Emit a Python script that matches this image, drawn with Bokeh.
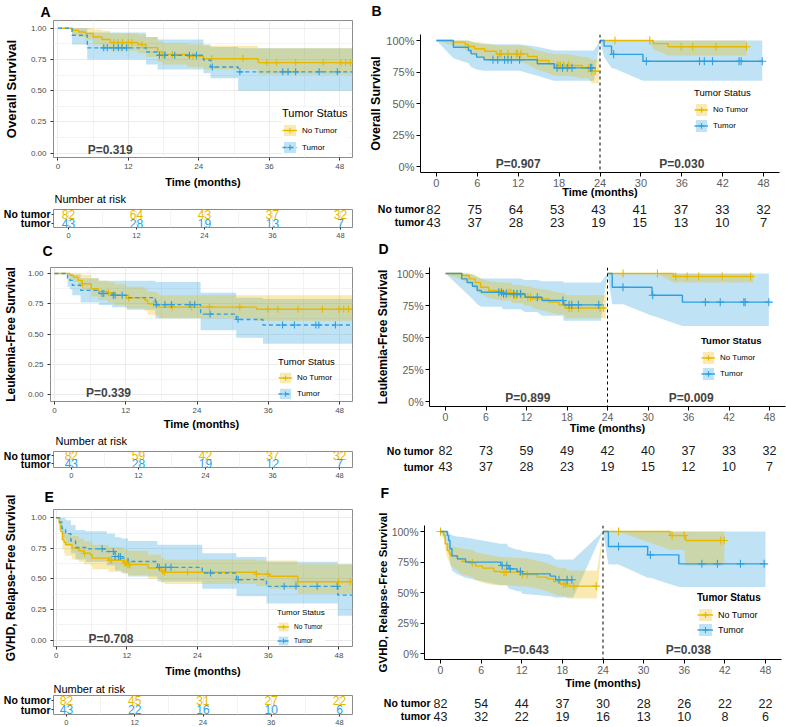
import numpy as np
from bokeh.plotting import figure
from bokeh.models import (Range1d, FactorRange, FixedTicker, NumeralTickFormatter,
                          Label, Legend, LegendItem, Span, Title)
from bokeh.layouts import column, row
from bokeh.embed import file_html
from bokeh.resources import INLINE
from bokeh.core.properties import value

FONT = "Liberation Sans"
GOLD = "#E7B800"
BLUE = "#2E9FDF"
BAND_ALPHA = 0.3
GROUPS = ["No Tumor", "Tumor"]
RISK_ROWS = ["No tumor", "tumor"]

# ---------------- A: overall survival, full follow-up ----------------
A_nt_t = [0, 2.4, 3.5, 4.7, 6.0, 7.5, 8.9, 13.6, 15.0, 17.0, 17.8, 22.0, 24.8, 34.1]
A_nt_s = [1.0, .984, .97, .958, .93, .91, .886, .87, .845, .81, .79, .776, .757, .725]
A_nt_lo = [1.0, .95, .93, .91, .87, .85, .82, .80, .77, .73, .71, .69, .67, .63]
A_nt_hi = [1.0, 1.0, 1.0, 1.0, .99, .98, .96, .95, .93, .90, .88, .87, .86, .84]
A_nt_cens = [9.5, 10.2, 11.0, 12.0, 12.6, 14.3, 17.9, 18.3, 19.5, 23.0, 23.6, 26.2, 31.5,
             35.6, 37.2, 40.5, 45.2, 48.2, 49.0, 49.8]
A_tu_t = [0, 2.4, 5.0, 15.0, 17.0, 24.8, 26.0, 30.7]
A_tu_s = [1.0, .944, .843, .81, .784, .745, .69, .651]
A_tu_lo = [1.0, .87, .75, .71, .67, .64, .60, .50]
A_tu_hi = [1.0, 1.0, .965, .93, .91, .87, .85, .84]
A_tu_cens = [7.8, 8.4, 9.5, 10.3, 10.9, 11.7, 17.3, 18.2, 19.9, 22.4, 23.6, 26.3, 31.0,
             38.3, 39.2, 40.5, 44.5, 47.6]

# ---------------- C: leukemia-free survival, full follow-up ----------------
C_nt_t = [0, 2.6, 3.2, 4.0, 4.6, 6.2, 7.4, 9.0, 10.1, 12.1, 15.2, 15.7, 17.1, 17.6, 34.0]
C_nt_s = [1.0, .985, .97, .943, .915, .874, .852, .84, .82, .798, .779, .75, .738, .722, .705]
C_nt_lo = [1.0, .95, .93, .89, .86, .81, .78, .76, .74, .71, .69, .66, .65, .63, .61]
C_nt_hi = [1.0, 1.0, 1.0, 1.0, .99, .96, .94, .93, .91, .89, .87, .85, .84, .82, .82]
C_nt_cens = [4.7, 9.1, 12.5, 16.7, 17.0, 19.8, 23.1, 26.1, 31.2, 35.9, 37.6, 41.0, 45.1,
             47.9, 48.7, 49.5]
C_tu_t = [0, 2.2, 2.6, 3.0, 4.4, 7.5, 9.7, 12.2, 17.0, 24.6, 30.6, 35.1]
C_tu_s = [1.0, .956, .943, .902, .86, .834, .82, .80, .743, .664, .62, .574]
C_tu_lo = [1.0, .89, .87, .82, .76, .74, .72, .70, .63, .53, .47, .42]
C_tu_hi = [1.0, 1.0, 1.0, .99, .96, .94, .94, .94, .93, .84, .80, .79]
C_tu_cens = [8.0, 8.3, 9.9, 10.2, 11.4, 17.2, 18.6, 19.7, 22.8, 23.6, 26.2, 30.9, 38.4,
             40.4, 44.0, 44.5, 47.3]

# ---------------- E: GVHD, relapse-free survival, full follow-up ----------------
E_nt_t = [0, 0.5, 0.8, 1.1, 1.35, 1.6, 2.7, 3.85, 4.7, 5.8, 6.1, 8.9, 11.4, 12.2, 15.6,
          17.8, 18.4, 34.0, 36.2, 41.0]
E_nt_s = [1.0, .955, .887, .82, .80, .78, .752, .73, .71, .698, .67, .653, .63, .617, .59,
          .563, .555, .54, .522, .478]
E_nt_lo = [1.0, .90, .82, .74, .71, .69, .66, .64, .62, .61, .58, .56, .54, .53, .50,
           .47, .46, .44, .42, .38]
E_nt_hi = [1.0, 1.0, .95, .90, .88, .87, .85, .83, .81, .80, .78, .76, .74, .73, .70,
           .67, .66, .65, .65, .62]
E_nt_cens = [4.8, 9.1, 9.4, 11.6, 11.9, 12.2, 12.5, 18.1, 18.4, 22.3, 26.2, 34.0, 35.9,
             41.0, 47.9, 49.9]
E_tu_t = [0, 0.6, 1.0, 1.6, 2.5, 3.3, 5.0, 8.6, 10.0, 11.0, 12.2, 17.2, 24.8, 30.6, 35.7, 47.8]
E_tu_s = [1.0, .965, .91, .87, .81, .757, .746, .724, .684, .67, .643, .595, .549, .495,
          .44, .368]
E_tu_lo = [1.0, .91, .83, .78, .71, .66, .64, .61, .57, .55, .52, .48, .42, .36, .30, .20]
E_tu_hi = [1.0, 1.0, 1.0, .98, .94, .90, .89, .87, .84, .83, .81, .78, .71, .68, .64, .62]
E_tu_cens = [7.8, 9.7, 10.0, 10.6, 10.9, 17.5, 18.6, 19.5, 26.2, 30.9, 38.7, 40.7, 44.3, 47.7]

# ---------------- B: overall survival, landmark at 24 months ----------------
B_nt1_t = [0, 2.5, 4.2, 4.7, 5.6, 7.1, 8.8, 13.4, 14.8, 16.5, 17.3, 21.4, 22.8]
B_nt1_s = [1.0, .987, .968, .952, .934, .915, .894, .873, .841, .815, .802, .78, .757]
B_nt1_lo = [1.0, .96, .93, .91, .88, .86, .83, .81, .77, .74, .72, .70, .66]
B_nt1_hi = [1.0, 1.0, 1.0, 1.0, .99, .98, .96, .95, .92, .90, .89, .87, .85]
B_nt1_cens = [9.3, 9.5, 10.5, 11.7, 11.9, 12.4, 17.7, 18.0, 18.2, 18.7, 19.4, 22.3, 22.8, 23.3]
B_nt1_end = 23.8
B_tu1_t = [0, 2.5, 4.7, 5.1, 5.9, 7.0, 14.8, 17.3]
B_tu1_s = [1.0, .947, .921, .894, .868, .847, .815, .783]
B_tu1_lo = [1.0, .86, .82, .79, .77, .76, .72, .68]
B_tu1_hi = [1.0, 1.0, 1.0, .99, .98, .97, .95, .92]
B_tu1_cens = [8.3, 9.0, 10.0, 10.5, 11.0, 12.2, 17.7, 18.5, 19.2, 19.9, 22.6, 22.8]
B_tu1_end = 23.1
B_nt2_t = [24, 31.8, 34.0]
B_nt2_s = [1.0, .975, .95]
B_nt2_lo = [1.0, .93, .88]
B_nt2_hi = [1.0, 1.0, 1.0]
B_nt2_cens = [26.2, 31.3, 35.9, 37.6, 41.0, 45.5]
B_nt2_end = 45.5
B_tu2_t = [24, 24.6, 25.7, 30.3]
B_tu2_s = [1.0, .955, .89, .835]
B_tu2_lo = [1.0, .87, .78, .68]
B_tu2_hi = [1.0, 1.0, 1.0, 1.0]
B_tu2_cens = [26.0, 30.8, 38.6, 39.3, 40.5, 44.4, 44.7, 47.8]
B_tu2_end = 47.8

# ---------------- D: leukemia-free survival, landmark at 24 months ----------------
D_nt1_t = [0, 2.5, 3.5, 4.4, 5.2, 6.4, 8.4, 9.9, 11.8, 12.8, 15.3, 16.8, 17.8]
D_nt1_s = [1.0, .984, .958, .93, .893, .867, .849, .833, .815, .802, .776, .755, .73]
D_nt1_lo = [1.0, .95, .92, .88, .84, .81, .79, .77, .75, .73, .70, .68, .65]
D_nt1_hi = [1.0, 1.0, 1.0, .99, .96, .94, .93, .91, .90, .89, .87, .85, .83]
D_nt1_cens = [9.1, 9.4, 9.7, 10.2, 10.5, 11.3, 12.2, 12.6, 17.7, 18.3, 18.7, 19.7, 22.9, 23.4]
D_nt1_end = 23.7
D_tu1_t = [0, 2.4, 3.2, 4.0, 4.7, 5.3, 8.5, 11.8, 14.3, 17.5]
D_tu1_s = [1.0, .958, .93, .90, .867, .854, .841, .815, .789, .755]
D_tu1_lo = [1.0, .88, .84, .80, .76, .74, .72, .70, .67, .63]
D_tu1_hi = [1.0, 1.0, 1.0, .99, .97, .96, .96, .95, .94, .93]
D_tu1_cens = [7.9, 8.3, 8.6, 9.0, 10.1, 10.6, 11.1, 13.6, 17.4, 18.3, 18.7, 19.7, 22.7]
D_tu1_end = 23.0
D_nt2_t = [24, 33.8]
D_nt2_s = [1.0, .977]
D_nt2_lo = [1.0, .93]
D_nt2_hi = [1.0, 1.0]
D_nt2_cens = [26.3, 31.4, 34.1, 35.8, 37.5, 41.0, 45.2]
D_nt2_end = 45.6
D_tu2_t = [24, 24.7, 30.6, 35.1]
D_tu2_s = [1.0, .893, .83, .776]
D_tu2_lo = [1.0, .76, .67, .59]
D_tu2_hi = [1.0, 1.0, 1.0, 1.0]
D_tu2_cens = [26.3, 30.7, 38.5, 40.7, 44.2, 44.4, 47.9]
D_tu2_end = 47.9

# ---------------- F: GVHD, relapse-free survival, landmark at 24 months ----------------
F_nt1_t = [0, 0.5, 0.7, 1.0, 1.3, 1.5, 2.5, 3.2, 4.4, 5.2, 6.2, 7.9, 8.9, 11.8, 14.3, 15.8,
           16.7, 17.7, 18.7]
F_nt1_s = [1.0, .967, .90, .844, .82, .80, .776, .754, .743, .716, .70, .672, .667, .648,
           .626, .612, .59, .57, .552]
F_nt1_lo = [1.0, .93, .85, .78, .75, .72, .68, .65, .63, .60, .58, .56, .56, .55, .53, .51,
            .49, .47, .45]
F_nt1_hi = [1.0, 1.0, .96, .92, .90, .88, .87, .86, .85, .83, .82, .80, .79, .78, .76, .74,
            .72, .70, .68]
F_nt1_cens = [0, 4.7, 9.4, 9.7, 12.1, 12.8, 18.2, 18.5, 19.7, 23.0]
F_nt1_end = 23.1
F_tu1_t = [0, 1.0, 1.2, 1.4, 1.7, 2.5, 3.7, 8.9, 10.1, 11.3, 12.1, 16.2, 17.0]
F_tu1_s = [1.0, .967, .926, .858, .80, .776, .749, .721, .694, .672, .653, .634, .605]
F_tu1_lo = [1.0, .91, .84, .75, .68, .65, .62, .56, .53, .51, .49, .47, .46]
F_tu1_hi = [1.0, 1.0, 1.0, .98, .97, .96, .95, .90, .87, .85, .84, .81, .77]
F_tu1_cens = [9.1, 9.8, 10.3, 11.8, 17.5, 18.7, 19.4]
F_tu1_end = 19.6
F_nt2_t = [24, 33.9, 36.2]
F_nt2_s = [1.0, .967, .926]
F_nt2_lo = [1.0, .85, .72]
F_nt2_hi = [1.0, 1.0, 1.0]
F_nt2_cens = [26.3, 34.2, 36.0, 41.4, 41.9]
F_nt2_end = 41.9
F_tu2_t = [24, 24.8, 30.6, 35.2]
F_tu2_s = [1.0, .877, .808, .735]
F_tu2_lo = [1.0, .73, .62, .545]
F_tu2_hi = [1.0, 1.0, 1.0, 1.0]
F_tu2_cens = [26.3, 31.0, 38.6, 40.9, 44.3, 47.8]
F_tu2_end = 48.0

# ---------------- numbers at risk ----------------
risk_t12 = [0, 12, 24, 36, 48]
risk_t6 = [0, 6, 12, 18, 24, 30, 36, 42, 48]
A_risk_nt = [82, 64, 43, 37, 32]
A_risk_tu = [43, 28, 19, 13, 7]
C_risk_nt = [82, 59, 42, 37, 32]
C_risk_tu = [43, 28, 19, 12, 7]
E_risk_nt = [82, 45, 31, 27, 22]
E_risk_tu = [43, 22, 16, 10, 6]
B_risk_nt = [82, 75, 64, 53, 43, 41, 37, 33, 32]
B_risk_tu = [43, 37, 28, 23, 19, 15, 13, 10, 7]
D_risk_nt = [82, 73, 59, 49, 42, 40, 37, 33, 32]
D_risk_tu = [43, 37, 28, 23, 19, 15, 12, 10, 7]
F_risk_nt = [82, 54, 44, 37, 30, 28, 26, 22, 22]
F_risk_tu = [43, 32, 22, 19, 16, 13, 10, 8, 6]

LEFT_W = 366
RIGHT_W = 420


def step_at(t, v, x):
    t = np.asarray(t, float)
    v = np.asarray(v, float)
    idx = np.searchsorted(t, np.asarray(x, float), side="right") - 1
    return v[np.clip(idx, 0, len(v) - 1)]


def x_range_px(f0, f1, p0, p48):
    k = (p48 - p0) / 48.0
    return Range1d(-(p0 - f0) / k, 48 + (f1 - p48) / k)


def y_range_px(ft, fb, p1, p0):
    k = (p0 - p1)
    return Range1d(-(fb - p0) / k, 1 + (p1 - ft) / k)


def add_top_text(p, text, size, bold, offset, gap):
    """Text above the frame, left-aligned, with its box bottom `gap` px above the frame."""
    if gap >= 3:
        # thin empty title used as a spacer between the frame and the text
        p.add_layout(Title(text=" ", text_font_size="1px", standoff=gap - 3), "above")
        standoff = 0
    else:
        standoff = 2 * gap
    p.add_layout(Title(text=text, align="left", offset=offset, standoff=standoff,
                       text_font=FONT, text_font_size=size,
                       text_font_style="bold" if bold else "normal",
                       text_color="black"), "above")


def add_legend(p, keys, loc, gw, gh, spacing, title_size, title_style, label_size):
    items = [LegendItem(label=name, renderers=rs) for name, rs in zip(GROUPS, keys)]
    leg = Legend(items=items, location=loc, title="Tumor Status",
                 title_text_font=FONT, title_text_font_size=title_size,
                 title_text_font_style=title_style, title_text_color="black",
                 title_standoff=4, label_text_font=FONT, label_text_font_size=label_size,
                 label_text_color="black", glyph_width=gw, glyph_height=gh,
                 label_height=gh, label_standoff=5, spacing=spacing, padding=2, margin=0,
                 background_fill_color="white", background_fill_alpha=1.0,
                 border_line_color=None)
    p.add_layout(leg)


def style_axis(ax, size, color, tick_out, standoff, tick_color="#333333"):
    ax.axis_line_color = None
    ax.major_tick_line_color = tick_color
    ax.major_tick_out = tick_out
    ax.major_tick_in = 0
    ax.minor_tick_line_color = None
    ax.major_label_text_font = FONT
    ax.major_label_text_font_size = size
    ax.major_label_text_color = color
    ax.major_label_standoff = standoff


def style_title(ax, text, size, standoff):
    ax.axis_label = text
    ax.axis_label_text_font = FONT
    ax.axis_label_text_font_size = size
    ax.axis_label_text_font_style = "bold"
    ax.axis_label_text_color = "black"
    ax.axis_label_standoff = standoff


def full_panel(cfg, nt, tu):
    H = cfg["H"]
    fl, fr, ft, fb = cfg["frame"]
    xr = x_range_px(fl, fr, *cfg["xpx"])
    yr = y_range_px(ft, fb, *cfg["ypx"])
    p = figure(width=LEFT_W, height=H, x_range=xr, y_range=yr, output_backend="svg",
               toolbar_location=None, min_border_left=fl, min_border_right=LEFT_W - fr,
               min_border_top=ft, min_border_bottom=H - fb)
    p.outline_line_color = "#8C8C8C"
    p.outline_line_width = 1
    p.xaxis.ticker = FixedTicker(ticks=[0, 12, 24, 36, 48], minor_ticks=[6, 18, 30, 42])
    p.yaxis.ticker = FixedTicker(ticks=[0, .25, .5, .75, 1],
                                 minor_ticks=[.125, .375, .625, .875])
    p.yaxis.formatter = NumeralTickFormatter(format="0.00")
    style_axis(p.xaxis[0], "8px", "#4D4D4D", 3, 2)
    style_axis(p.yaxis[0], "8px", "#4D4D4D", 3, 3)
    style_title(p.xaxis[0], "Time (months)", "11px", cfg["xlab_standoff"])
    style_title(p.yaxis[0], cfg["ylab"], cfg["ylab_size"], cfg["ylab_standoff"])
    for g in (p.xgrid[0], p.ygrid[0]):
        g.grid_line_color = "#EBEBEB"
        g.minor_grid_line_color = "#F3F3F3"
    x_end = xr.end

    bands = {}
    for key, (t, s, lo, hi, cens), col in (("tu", tu, BLUE), ("nt", nt, GOLD)):
        bands[key] = p.varea_step(x=list(t) + [x_end], y1=list(lo) + [lo[-1]],
                                  y2=list(hi) + [hi[-1]], step_mode="after",
                                  fill_color=col, fill_alpha=BAND_ALPHA)
    keys = []
    for key, (t, s, lo, hi, cens), col, dash in (("nt", nt, GOLD, "solid"),
                                                 ("tu", tu, BLUE, "4 3")):
        ln = p.step(x=list(t) + [x_end], y=list(s) + [s[-1]], mode="after", line_color=col,
                    line_width=1.4, line_dash=dash)
        mk = p.scatter(x=cens, y=step_at(t, s, cens), marker="cross", size=7,
                       line_color=col, line_width=1.1)
        keys.append([bands[key], ln, mk])

    add_top_text(p, cfg["letter"][0], "14px", True, cfg["letter"][1], cfg["letter"][2])
    pt, px, py = cfg["pval"]
    p.add_layout(Label(x=px, y=py, text=pt, text_font=FONT, text_font_size="12px",
                       text_font_style="bold", text_align="center", text_baseline="middle"))
    add_legend(p, keys, *cfg["legend"])
    return p


def full_risk(cfg, times, nt_vals, tu_vals):
    H = cfg["H"]
    fl, fr, ft, fb = cfg["frame"]
    xr = x_range_px(fl, fr, *cfg["xpx"])
    p = figure(width=LEFT_W, height=H, x_range=xr,
               y_range=FactorRange(factors=RISK_ROWS[::-1], range_padding=0),
               output_backend="svg", toolbar_location=None, min_border_left=fl,
               min_border_right=LEFT_W - fr, min_border_top=ft, min_border_bottom=H - fb)
    p.outline_line_color = "#8C8C8C"
    p.xaxis.ticker = FixedTicker(ticks=[0, 12, 24, 36, 48], minor_ticks=[6, 18, 30, 42])
    style_axis(p.xaxis[0], "7.5px", "#4D4D4D", 2, 1)
    style_axis(p.yaxis[0], "10.5px", "black", 2, 1)
    p.yaxis[0].major_label_text_font_style = "bold"
    p.xgrid[0].grid_line_color = "#EBEBEB"
    p.xgrid[0].minor_grid_line_color = "#F3F3F3"
    p.ygrid[0].grid_line_color = None
    for vals, name, col in ((nt_vals, RISK_ROWS[0], GOLD), (tu_vals, RISK_ROWS[1], BLUE)):
        p.text(x=times, y=[name] * len(times), text=[str(v) for v in vals], text_color=col,
               text_font=value(FONT), text_font_size="12px", text_align="center",
               text_baseline="middle")
    add_top_text(p, "Number at risk", "11px", False, cfg["title_offset"], cfg["title_gap"])
    return p


def landmark_panel(cfg, nt_segs, tu_segs):
    H = cfg["H"]
    fl, fr, ft, fb = cfg["frame"]
    xr = x_range_px(fl, fr, *cfg["xpx"])
    yr = y_range_px(ft, fb, *cfg["ypx"])
    p = figure(width=RIGHT_W, height=H, x_range=xr, y_range=yr, output_backend="svg",
               toolbar_location=None, min_border_left=fl, min_border_right=RIGHT_W - fr,
               min_border_top=ft, min_border_bottom=H - fb)
    p.outline_line_color = None
    p.xgrid.visible = False
    p.ygrid.visible = False
    p.xaxis.ticker = FixedTicker(ticks=list(range(0, 49, 6)))
    p.yaxis.ticker = FixedTicker(ticks=[0, .25, .5, .75, 1])
    p.yaxis.formatter = NumeralTickFormatter(format="0%")
    for ax in (p.xaxis[0], p.yaxis[0]):
        style_axis(ax, cfg["tick_size"], "#5E5E5E", 4, 2, tick_color="black")
        ax.axis_line_color = "black"
        ax.axis_line_width = 1
    style_title(p.xaxis[0], "Time (months)", "11px", cfg["xlab_standoff"])
    style_title(p.yaxis[0], cfg["ylab"], cfg["ylab_size"], cfg["ylab_standoff"])

    # ribbons joined across the landmark
    bands = {}
    for key, segs, col in (("tu", tu_segs, BLUE), ("nt", nt_segs, GOLD)):
        xs, los, his = [], [], []
        for (t, s, lo, hi, cens, end) in segs:
            pts = np.unique(np.concatenate([t, cens, [end]]))
            pts = pts[pts <= end]
            xs.extend(pts)
            los.extend(step_at(t, lo, pts))
            his.extend(step_at(t, hi, pts))
        bands[key] = p.varea(x=xs, y1=los, y2=his, fill_color=col, fill_alpha=BAND_ALPHA)
    keys = []
    for key, segs, col in (("nt", nt_segs, GOLD), ("tu", tu_segs, BLUE)):
        first = None
        for (t, s, lo, hi, cens, end) in segs:
            ln = p.step(x=list(t) + [end], y=list(s) + [s[-1]], mode="after",
                        line_color=col, line_width=1.4)
            mk = p.scatter(x=cens, y=step_at(t, s, cens), marker="cross", size=8,
                           line_color=col, line_width=1.1)
            if first is None:
                first = [bands[key], ln, mk]
        keys.append(first)
    p.add_layout(Span(location=24, dimension="height", line_color="black", line_width=1,
                      line_dash="3 3"))

    add_top_text(p, cfg["letter"][0], "14px", True, cfg["letter"][1], cfg["letter"][2])
    for pt, px, py in cfg["pvals"]:
        p.add_layout(Label(x=px, y=py, text=pt, text_font=FONT, text_font_size="12px",
                           text_font_style="bold", text_align="center",
                           text_baseline="middle"))
    add_legend(p, keys, *cfg["legend"])
    return p


def landmark_risk(cfg, main_cfg, times, nt_vals, tu_vals):
    H = cfg["H"]
    fl, fr, ft, fb = main_cfg["frame"]
    main_x = x_range_px(fl, fr, *main_cfg["xpx"])
    k = (fr - fl) / (main_x.end - main_x.start)
    xr = Range1d(main_x.start - fl / k, main_x.end + (RIGHT_W - fr) / k)
    p = figure(width=RIGHT_W, height=H, x_range=xr,
               y_range=FactorRange(factors=RISK_ROWS[::-1], range_padding=0),
               output_backend="svg", toolbar_location=None, x_axis_location=None,
               y_axis_location=None, min_border_left=0, min_border_right=0,
               min_border_top=cfg["top"], min_border_bottom=cfg["bottom"])
    p.outline_line_color = None
    p.grid.visible = False
    for vals, name in ((nt_vals, RISK_ROWS[0]), (tu_vals, RISK_ROWS[1])):
        p.text(x=times, y=[name] * len(times), text=[str(v) for v in vals],
               text_color="#1A1A1A", text_font=value(FONT), text_font_size=cfg["num_size"],
               text_align="center", text_baseline="middle")
    p.text(x=[times[0]] * 2, y=RISK_ROWS, text=RISK_ROWS, x_offset=cfg["label_offset"],
           text_color="black", text_font=value(FONT), text_font_size="10.5px",
           text_font_style="bold", text_align="right", text_baseline="middle")
    return p


# ---------------- panel layout settings ----------------
cfg_A = dict(H=190, frame=(49, 352, 20, 157), xpx=(53.5, 339), ypx=(27.7, 152.7),
             letter=("A", -13, 1), ylab="Overall Survival", ylab_size="13px",
             ylab_standoff=9, xlab_standoff=4, pval=("P=0.319", 8.9, 0.027),
             legend=((229, 3), 15, 14, 3, "11px", "normal", "8px"))
cfg_Ar = dict(H=50, frame=(53, 352, 19, 38), xpx=(68, 340), title_offset=1, title_gap=4.6)
cfg_C = dict(H=192, frame=(48, 352, 27, 162), xpx=(52, 339), ypx=(33, 155),
             letter=("C", -8, 9), ylab="Leukemia-Free Survival", ylab_size="12px",
             ylab_standoff=7, xlab_standoff=2, pval=("P=0.339", 9.1, 0.01),
             legend=((228, 1), 14, 13, 3, "9.5px", "normal", "8px"))
cfg_Cr = dict(H=48, frame=(50, 352, 19, 38), xpx=(68, 339), title_offset=2, title_gap=4.6)
cfg_E = dict(H=199, frame=(49, 352, 29, 167), xpx=(51.7, 338.3), ypx=(37.3, 160.7),
             letter=("E", -9, 5.3), ylab="GVHD, Relapse-Free Survival", ylab_size="12px",
             ylab_standoff=10, xlab_standoff=4, pval=("P=0.708", 9.3, 0.014),
             legend=((224, 0), 12, 11, 3, "8px", "normal", "6.5px"))
cfg_Er = dict(H=48, frame=(52, 352, 16, 38), xpx=(65, 339), title_offset=0, title_gap=0.8)

cfg_B = dict(H=202, frame=(51, 413, 34, 172), xpx=(67, 397), ypx=(40, 166), tick_size="11px",
             letter=("B", -49, 16), ylab="Overall Survival", ylab_size="12.5px",
             ylab_standoff=0, xlab_standoff=-4,
             pvals=[("P=0.907", 12.0, 0.021), ("P=0.030", 36.0, 0.021)],
             legend=((274, 39), 14, 15, 1, "9.5px", "normal", "8px"))
cfg_Br = dict(H=30, top=0, bottom=4, num_size="13px", label_offset=-9)
cfg_D = dict(H=205, frame=(63, 419, 35, 174), xpx=(79, 403), ypx=(41, 169),
             tick_size="10.5px", letter=("D", -51, 11), ylab="Leukemia-Free Survival",
             ylab_size="12px", ylab_standoff=4, xlab_standoff=-2,
             pvals=[("P=0.899", 12.2, 0.029), ("P=0.009", 36.4, 0.029)],
             legend=((272, 25), 14, 15, 1, "9.5px", "bold", "8px"))
cfg_Dr = dict(H=43, top=5, bottom=6, num_size="12.5px", label_offset=-12)
cfg_F = dict(H=211, frame=(58, 415, 45, 179), xpx=(74, 399), ypx=(51, 173),
             tick_size="10.5px", letter=("F", -44, 25), ylab="GVHD, Relapse-Free Survival",
             ylab_size="11.5px", ylab_standoff=0, xlab_standoff=0,
             pvals=[("P=0.643", 12.7, 0.025), ("P=0.038", 36.6, 0.025)],
             legend=((273, 22), 16, 15, 0, "10px", "bold", "9px"))
cfg_Fr = dict(H=36, top=5, bottom=5, num_size="12.5px", label_offset=-10)

pA = full_panel(cfg_A, (A_nt_t, A_nt_s, A_nt_lo, A_nt_hi, A_nt_cens),
                (A_tu_t, A_tu_s, A_tu_lo, A_tu_hi, A_tu_cens))
rA = full_risk(cfg_Ar, risk_t12, A_risk_nt, A_risk_tu)
pC = full_panel(cfg_C, (C_nt_t, C_nt_s, C_nt_lo, C_nt_hi, C_nt_cens),
                (C_tu_t, C_tu_s, C_tu_lo, C_tu_hi, C_tu_cens))
rC = full_risk(cfg_Cr, risk_t12, C_risk_nt, C_risk_tu)
pE = full_panel(cfg_E, (E_nt_t, E_nt_s, E_nt_lo, E_nt_hi, E_nt_cens),
                (E_tu_t, E_tu_s, E_tu_lo, E_tu_hi, E_tu_cens))
rE = full_risk(cfg_Er, risk_t12, E_risk_nt, E_risk_tu)

pB = landmark_panel(cfg_B,
                    [(B_nt1_t, B_nt1_s, B_nt1_lo, B_nt1_hi, B_nt1_cens, B_nt1_end),
                     (B_nt2_t, B_nt2_s, B_nt2_lo, B_nt2_hi, B_nt2_cens, B_nt2_end)],
                    [(B_tu1_t, B_tu1_s, B_tu1_lo, B_tu1_hi, B_tu1_cens, B_tu1_end),
                     (B_tu2_t, B_tu2_s, B_tu2_lo, B_tu2_hi, B_tu2_cens, B_tu2_end)])
rB = landmark_risk(cfg_Br, cfg_B, risk_t6, B_risk_nt, B_risk_tu)
pD = landmark_panel(cfg_D,
                    [(D_nt1_t, D_nt1_s, D_nt1_lo, D_nt1_hi, D_nt1_cens, D_nt1_end),
                     (D_nt2_t, D_nt2_s, D_nt2_lo, D_nt2_hi, D_nt2_cens, D_nt2_end)],
                    [(D_tu1_t, D_tu1_s, D_tu1_lo, D_tu1_hi, D_tu1_cens, D_tu1_end),
                     (D_tu2_t, D_tu2_s, D_tu2_lo, D_tu2_hi, D_tu2_cens, D_tu2_end)])
rD = landmark_risk(cfg_Dr, cfg_D, risk_t6, D_risk_nt, D_risk_tu)
pF = landmark_panel(cfg_F,
                    [(F_nt1_t, F_nt1_s, F_nt1_lo, F_nt1_hi, F_nt1_cens, F_nt1_end),
                     (F_nt2_t, F_nt2_s, F_nt2_lo, F_nt2_hi, F_nt2_cens, F_nt2_end)],
                    [(F_tu1_t, F_tu1_s, F_tu1_lo, F_tu1_hi, F_tu1_cens, F_tu1_end),
                     (F_tu2_t, F_tu2_s, F_tu2_lo, F_tu2_hi, F_tu2_cens, F_tu2_end)])
rF = landmark_risk(cfg_Fr, cfg_F, risk_t6, F_risk_nt, F_risk_tu)

# each figure sits in its own box so that panels keep their own frame borders
left = column(*[column(f) for f in (pA, rA, pC, rC, pE, rE)])
right = column(*[column(f) for f in (pB, rB, pD, rD, pF, rF)])
layout = row(left, right)
open("out.html", "w").write(file_html(layout, INLINE))
